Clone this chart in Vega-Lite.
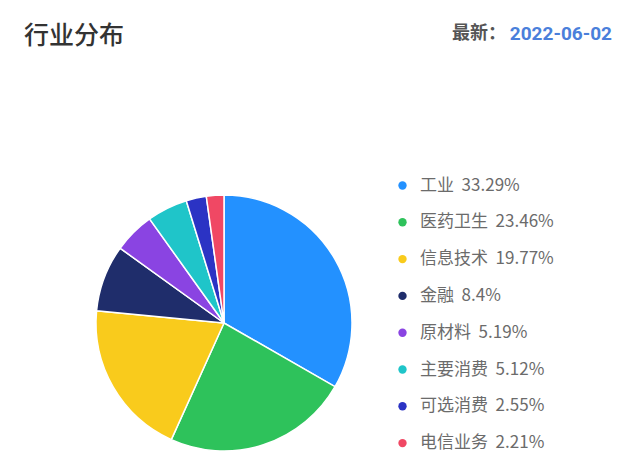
{
  "$schema": "https://vega.github.io/schema/vega-lite/v6.json",
  "autosize": {"type": "none"},
  "width": 448,
  "height": 256,
  "padding": {"top": 195, "left": 0, "right": 192, "bottom": 14},
  "background": "#ffffff",
  "config": {"view": {"stroke": null}, "font": "Noto Sans CJK SC"},
  "title": {
    "text": "行业分布",
    "anchor": "start",
    "frame": "group",
    "orient": "top",
    "dx": 24,
    "offset": -24,
    "fontSize": 25,
    "fontWeight": 500,
    "color": "#333333",
    "font": "Noto Sans CJK SC"
  },
  "layer": [
    {
      "data": {
        "values": [
          {"industry": "工业", "share": 33.29, "label": "工业\u00a0\u00a033.29%"},
          {"industry": "医药卫生", "share": 23.46, "label": "医药卫生\u00a0\u00a023.46%"},
          {"industry": "信息技术", "share": 19.77, "label": "信息技术\u00a0\u00a019.77%"},
          {"industry": "金融", "share": 8.4, "label": "金融\u00a0\u00a08.4%"},
          {"industry": "原材料", "share": 5.19, "label": "原材料\u00a0\u00a05.19%"},
          {"industry": "主要消费", "share": 5.12, "label": "主要消费\u00a0\u00a05.12%"},
          {"industry": "可选消费", "share": 2.55, "label": "可选消费\u00a0\u00a02.55%"},
          {"industry": "电信业务", "share": 2.21, "label": "电信业务\u00a0\u00a02.21%"}
        ]
      },
      "mark": {"type": "arc", "stroke": "#ffffff", "strokeWidth": 1.5},
      "encoding": {
        "theta": {"field": "share", "type": "quantitative", "stack": true},
        "order": {"field": "share", "type": "quantitative", "sort": "descending"},
        "color": {
          "field": "label",
          "type": "nominal",
          "sort": null,
          "scale": {
            "domain": ["工业\u00a0\u00a033.29%", "医药卫生\u00a0\u00a023.46%", "信息技术\u00a0\u00a019.77%", "金融\u00a0\u00a08.4%", "原材料\u00a0\u00a05.19%", "主要消费\u00a0\u00a05.12%", "可选消费\u00a0\u00a02.55%", "电信业务\u00a0\u00a02.21%"],
            "range": ["#2391FF", "#2EC25B", "#F9CB1C", "#1F2D6B", "#8A44E2", "#1FC5C9", "#2B33C4", "#F04864"]
          },
          "legend": {
            "title": null,
            "orient": "none",
            "legendX": 394,
            "legendY": -18,
            "symbolType": "circle",
            "symbolSize": 70,
            "symbolStrokeWidth": 0,
            "labelFontSize": 17,
            "labelColor": "#6b6b6b",
            "labelFont": "Noto Sans CJK SC",
            "labelOffset": 9,
            "labelLimit": 300,
            "rowPadding": 18.8
          }
        }
      }
    },
    {
      "data": {"values": [{"t": "最新："}]},
      "mark": {"type": "text", "align": "right", "baseline": "middle", "x": 506, "y": -161, "fontSize": 18, "fontWeight": "bold", "color": "#555555", "font": "Noto Sans CJK SC"},
      "encoding": {"text": {"field": "t"}}
    },
    {
      "data": {"values": [{"t": "2022-06-02"}]},
      "mark": {"type": "text", "align": "right", "baseline": "middle", "x": 612, "y": -161, "fontSize": 19, "fontWeight": "bold", "color": "#4A7FDB", "font": "Roboto"},
      "encoding": {"text": {"field": "t"}}
    }
  ]
}
